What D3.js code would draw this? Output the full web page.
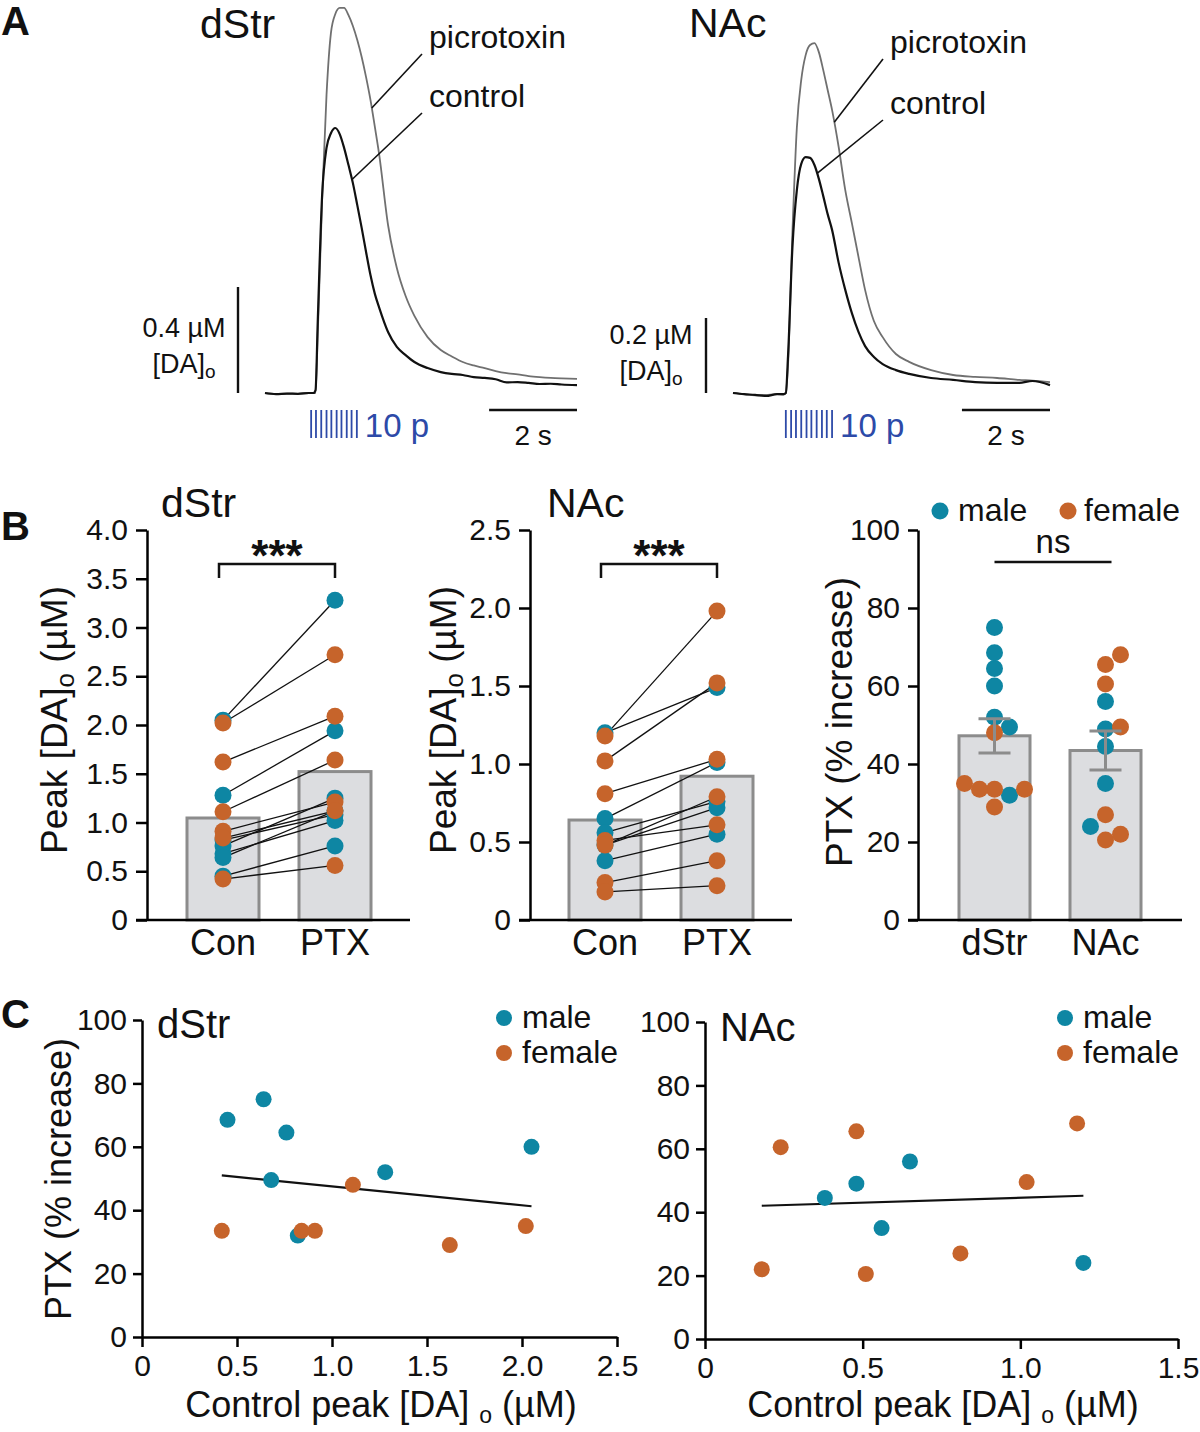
<!DOCTYPE html>
<html>
<head>
<meta charset="utf-8">
<script src="https://cdn.jsdelivr.net/npm/d3@7"></script>
<style>
  body { margin: 0; background: #fff; }
  svg { display: block; font-family: "Liberation Sans", Arial, Helvetica, sans-serif; }
</style>
</head>
<body>
<svg width="1200" height="1432"></svg>
<script>
// ---------- data: panel A traces (time in s, [DA]o in µM) ----------
const dstrTime = [0, 0.25, 0.5, 0.75, 1.0, 1.1, 1.15, 1.2, 1.3, 1.4, 1.5, 1.6, 1.7, 1.8, 1.9, 2.0, 2.1, 2.2, 2.3, 2.4, 2.5, 2.6, 2.8, 3.0, 3.2, 3.4, 3.7, 4.0, 4.25, 4.5, 4.75, 5.0, 5.25, 5.5, 5.75, 6.0, 6.25, 6.5, 6.75, 7.1];
const dstrControl = [0, -0.004, -0.002, -0.003, 0, 0, 0.011, 0.268, 0.747, 0.925, 0.98, 1.0, 0.977, 0.925, 0.86, 0.792, 0.709, 0.623, 0.532, 0.445, 0.374, 0.321, 0.23, 0.174, 0.143, 0.117, 0.094, 0.079, 0.072, 0.068, 0.06, 0.057, 0.052, 0.04, 0.041, 0.038, 0.034, 0.035, 0.032, 0.03];
const dstrPicro = [0, -0.004, -0.002, -0.003, 0, 0, 0, 0.219, 0.728, 1.125, 1.358, 1.43, 1.453, 1.453, 1.426, 1.385, 1.332, 1.268, 1.192, 1.106, 1.004, 0.898, 0.634, 0.472, 0.366, 0.291, 0.211, 0.162, 0.138, 0.117, 0.104, 0.094, 0.083, 0.075, 0.07, 0.064, 0.06, 0.057, 0.055, 0.053];
const dstrStim = [1.05, 1.16, 1.28, 1.4, 1.51, 1.63, 1.74, 1.86, 1.97, 2.09];

const nacTime = [0, 0.25, 0.5, 0.75, 1.0, 1.15, 1.2, 1.25, 1.35, 1.45, 1.55, 1.65, 1.75, 1.85, 1.95, 2.05, 2.15, 2.25, 2.4, 2.55, 2.7, 2.85, 3.0, 3.2, 3.4, 3.7, 4.0, 4.5, 5.0, 5.5, 6.0, 6.5, 6.8, 7.2];
const nacControl = [0, -0.003, -0.005, -0.008, -0.003, -0.003, 0, 0.099, 0.389, 0.541, 0.611, 0.629, 0.627, 0.608, 0.571, 0.525, 0.477, 0.435, 0.347, 0.275, 0.213, 0.163, 0.125, 0.096, 0.077, 0.061, 0.051, 0.04, 0.035, 0.029, 0.027, 0.027, 0.032, 0.021];
const nacPicro = [0, -0.003, -0.006, -0.005, -0.003, -0.004, 0, 0.075, 0.429, 0.707, 0.835, 0.901, 0.928, 0.933, 0.909, 0.861, 0.808, 0.755, 0.656, 0.541, 0.453, 0.363, 0.275, 0.192, 0.149, 0.104, 0.083, 0.061, 0.048, 0.043, 0.04, 0.035, 0.033, 0.029];
const nacStim = [1.2, 1.32, 1.43, 1.55, 1.67, 1.78, 1.9, 2.02, 2.13, 2.25];

// ---------- data: per-slice values (B and C) ----------
const groups = ["Con", "PTX"];
const regions = ["dStr", "NAc"];

const dstrSex = ["m", "f", "f", "m", "f", "f", "f", "m", "m", "m", "m", "m", "f"];
const dstrCon = [2.05, 2.02, 1.62, 1.28, 1.11, 0.91, 0.84, 0.82, 0.76, 0.68, 0.64, 0.45, 0.42];
const dstrPtx = [3.28, 2.72, 2.09, 1.94, 1.64, 1.21, 1.12, 1.08, 1.25, 1.02, 1.12, 0.76, 0.56];
const dstrPct = [60, 35, 29, 52, 48, 33.5, 33.5, 32, 64.5, 49.5, 75, 68.5, 33.5];

const nacSex = ["m", "f", "f", "f", "m", "m", "f", "m", "f", "m", "f", "f"];
const nacCon = [1.2, 1.18, 1.02, 0.81, 0.65, 0.56, 0.51, 0.48, 0.48, 0.38, 0.24, 0.18];
const nacPtx = [1.49, 1.98, 1.52, 1.03, 1.01, 0.76, 0.61, 0.72, 0.79, 0.55, 0.38, 0.22];
const nacPct = [24, 68, 49.5, 27, 56, 35, 20.5, 49, 65.5, 44.5, 60.5, 22];

const pctTicks = [0, 20, 40, 60, 80, 100];

// ---------- styles ----------
const FONT = '"Liberation Sans", Arial, Helvetica, sans-serif';
const MALE = "#0e86a3";
const FEMALE = "#c6642b";
const BAR_FILL = "#dcdde0";
const BAR_STROKE = "#8c8c8c";
const STIM_BLUE = "#2d4aa8";
const sexColor = s => s === "m" ? MALE : FEMALE;

const svg = d3.select("svg");

function text(x, y, str, size, opts = {}) {
    return svg.append("text")
        .attr("x", x).attr("y", y)
        .attr("font-size", size)
        .attr("font-weight", opts.bold ? "bold" : null)
        .attr("text-anchor", opts.anchor || "start")
        .attr("fill", opts.fill || "#111")
        .text(str);
}

function styleAxis(g, fs) {
    g.attr("font-family", FONT).attr("font-size", fs);
    g.select(".domain").attr("stroke", "#000").attr("stroke-width", 2.5);
    g.selectAll(".tick line").attr("stroke", "#000").attr("stroke-width", 2.5);
    g.selectAll(".tick text").attr("fill", "#111");
}

const numFmt = d => d === 0 ? "0" : d3.format(".1f")(d);

// interpolate a value on a trace for leader lines
function valueAt(time, vals, t) {
    const i = d3.bisectRight(time, t);
    const t0 = time[i - 1], t1 = time[i];
    return vals[i - 1] + (vals[i] - vals[i - 1]) * (t - t0) / (t1 - t0);
}

// panel letters
text(1, 35, "A", 40, { bold: true });
text(1, 540, "B", 40, { bold: true });
text(1, 1028, "C", 40, { bold: true });

// ---------- panel A ----------
function tracePanel(o) {
    const tEnd = o.time[o.time.length - 1];
    const x = d3.scaleLinear().domain([0, tEnd]).range([o.x0, o.x1]);
    const y = d3.scaleLinear().domain([0, 1]).range([o.base, o.base - o.pxPerUM]);
    const line = d3.line()
        .x((d, i) => x(o.time[i]))
        .y(d => y(d))
        .curve(d3.curveMonotoneX);

    svg.append("path").datum(o.picro)
        .attr("d", line).attr("fill", "none")
        .attr("stroke", "#707070").attr("stroke-width", 1.8);
    svg.append("path").datum(o.control)
        .attr("d", line).attr("fill", "none")
        .attr("stroke", "#111").attr("stroke-width", 2.2);

    text(o.titleX, o.titleY, o.title, 41);

    // labels with leader lines
    const labels = [
        { name: "picrotoxin", lx: o.labelX, ly: o.picroY, t: o.picroT, vals: o.picro },
        { name: "control", lx: o.labelX, ly: o.controlY, t: o.controlT, vals: o.control }
    ];
    labels.forEach(l => {
        text(l.lx, l.ly, l.name, 32);
        svg.append("line")
            .attr("x1", l.lx - 7).attr("y1", l.ly + 6)
            .attr("x2", x(l.t)).attr("y2", y(valueAt(o.time, l.vals, l.t)))
            .attr("stroke", "#111").attr("stroke-width", 1.6);
    });

    // vertical scale bar
    const vx = o.x0 - 27;
    svg.append("line")
        .attr("x1", vx).attr("x2", vx)
        .attr("y1", y(0)).attr("y2", y(o.barConc))
        .attr("stroke", "#111").attr("stroke-width", 2.4);
    text(o.scaleTextX, o.scaleTextY, o.barConc + " µM", 27, { anchor: "middle" });
    const da = text(o.scaleTextX, o.scaleTextY + 36, "[DA]", 27, { anchor: "middle" });
    da.append("tspan").attr("font-size", 19).attr("dy", 5).text("o");

    // time scale bar
    const ty = o.base + 17;
    svg.append("line")
        .attr("x1", x(tEnd - 2)).attr("x2", x(tEnd))
        .attr("y1", ty).attr("y2", ty)
        .attr("stroke", "#111").attr("stroke-width", 2.4);
    text((x(tEnd - 2) + x(tEnd)) / 2, o.base + 52, "2 s", 28, { anchor: "middle" });

    // stimulation pulses
    svg.append("g").selectAll("line").data(o.stim).join("line")
        .attr("x1", d => x(d)).attr("x2", d => x(d))
        .attr("y1", o.base + 17).attr("y2", o.base + 45)
        .attr("stroke", STIM_BLUE).attr("stroke-width", 1.8);
    text(x(o.stim[o.stim.length - 1]) + 8, o.base + 44, "10 p", 33, { fill: STIM_BLUE });
}

tracePanel({
    time: dstrTime, control: dstrControl, picro: dstrPicro, stim: dstrStim,
    x0: 265, x1: 577, base: 393, pxPerUM: 265, barConc: 0.4,
    title: "dStr", titleX: 200, titleY: 38,
    labelX: 429, picroY: 48, controlY: 107, picroT: 2.43, controlT: 1.98,
    scaleTextX: 184, scaleTextY: 337
});

tracePanel({
    time: nacTime, control: nacControl, picro: nacPicro, stim: nacStim,
    x0: 733, x1: 1050, base: 393, pxPerUM: 375, barConc: 0.2,
    title: "NAc", titleX: 689, titleY: 37,
    labelX: 890, picroY: 53, controlY: 114, picroT: 2.3, controlT: 1.91,
    scaleTextX: 651, scaleTextY: 344
});

// ---------- panel B ----------
const B_TOP = 530, B_BOT = 920;

function yLabel(x, y, parts, size) {
    const t = svg.append("text")
        .attr("transform", `translate(${x},${y}) rotate(-90)`)
        .attr("text-anchor", "middle")
        .attr("font-size", size)
        .attr("fill", "#111");
    parts.forEach(p => {
        const s = t.append("tspan").text(p.t);
        if (p.sub) s.attr("font-size", size * 0.7).attr("dy", 7);
        if (p.unsub) s.attr("dy", -7);
    });
    return t;
}

function pairPanel(o) {
    const y = d3.scaleLinear().domain([0, o.max]).range([B_BOT, B_TOP]);
    const x = d3.scaleBand().domain(groups).range([o.bandL, o.bandR]);
    const cx = d => x(d) + x.bandwidth() / 2;
    const cols = [o.con, o.ptx];
    const means = cols.map(c => d3.mean(c));

    svg.append("g").selectAll("rect").data(groups).join("rect")
        .attr("x", d => cx(d) - o.barW / 2)
        .attr("y", (d, i) => y(means[i]))
        .attr("width", o.barW)
        .attr("height", (d, i) => y(0) - y(means[i]))
        .attr("fill", BAR_FILL).attr("stroke", BAR_STROKE).attr("stroke-width", 3);

    const idx = d3.range(o.con.length);
    svg.append("g").selectAll("line").data(idx).join("line")
        .attr("x1", cx("Con")).attr("x2", cx("PTX"))
        .attr("y1", i => y(o.con[i])).attr("y2", i => y(o.ptx[i]))
        .attr("stroke", "#111").attr("stroke-width", 1.3);

    const order = idx.filter(i => o.sex[i] === "m").concat(idx.filter(i => o.sex[i] === "f"));
    const pts = [];
    order.forEach(i => groups.forEach((gname, gi) => pts.push({ g: gname, v: cols[gi][i], s: o.sex[i] })));
    svg.append("g").selectAll("circle").data(pts).join("circle")
        .attr("cx", d => cx(d.g)).attr("cy", d => y(d.v)).attr("r", 8.5)
        .attr("fill", d => sexColor(d.s));

    // axes
    const ay = svg.append("g").attr("transform", `translate(${o.axisX},0)`)
        .call(d3.axisLeft(y).tickValues(o.ticks).tickFormat(numFmt).tickSize(11).tickSizeOuter(0).tickPadding(8));
    styleAxis(ay, 30);
    svg.append("line")
        .attr("x1", o.axisX - 11).attr("x2", o.xEnd)
        .attr("y1", B_BOT).attr("y2", B_BOT)
        .attr("stroke", "#000").attr("stroke-width", 2.5);
    groups.forEach(gname => text(cx(gname), 955, gname, 36, { anchor: "middle" }));

    // significance bracket
    const bx1 = cx("Con") - 4, bx2 = cx("PTX");
    svg.append("path")
        .attr("d", `M${bx1},578V564H${bx2}V578`)
        .attr("fill", "none").attr("stroke", "#111").attr("stroke-width", 2.5);
    text((bx1 + bx2) / 2, 571, "***", 44, { anchor: "middle", bold: true });

    text(o.titleX, 517, o.title, 41);
    yLabel(o.labelX, 720, [{ t: "Peak [DA]" }, { t: "o", sub: true }, { t: " (µM)", unsub: true }], 37);
}

pairPanel({
    con: dstrCon, ptx: dstrPtx, sex: dstrSex, max: 4,
    ticks: d3.range(0, 4.01, 0.5), axisX: 147, bandL: 167, bandR: 391, barW: 72, xEnd: 410,
    title: "dStr", titleX: 161, labelX: 67
});

pairPanel({
    con: nacCon, ptx: nacPtx, sex: nacSex, max: 2.5,
    ticks: d3.range(0, 2.51, 0.5), axisX: 530, bandL: 549, bandR: 773, barW: 72, xEnd: 792,
    title: "NAc", titleX: 547, labelX: 456
});

// beeswarm placement for the % increase panel (lowest values first)
function swarm(vals, y, cx, step, minD) {
    const order = d3.range(vals.length).sort((a, b) => vals[a] - vals[b]);
    const placed = [];
    const xs = [];
    order.forEach(i => {
        const py = y(vals[i]);
        for (const k of [0, 1, -1, 2, -2, 3, -3]) {
            const px = cx + k * step;
            if (placed.every(p => Math.hypot(p[0] - px, p[1] - py) >= minD)) {
                xs[i] = px;
                placed.push([px, py]);
                break;
            }
        }
    });
    return xs;
}

(function pctPanel() {
    const y = d3.scaleLinear().domain([0, 100]).range([B_BOT, B_TOP]);
    const x = d3.scaleBand().domain(regions).range([939, 1161]);
    const cx = d => x(d) + x.bandwidth() / 2;
    const sets = [
        { r: "dStr", pct: dstrPct, sex: dstrSex },
        { r: "NAc", pct: nacPct, sex: nacSex }
    ];
    const barW = 71;

    sets.forEach(s => {
        const m = d3.mean(s.pct);
        const sem = d3.deviation(s.pct) / Math.sqrt(s.pct.length);
        s.mean = m; s.sem = sem;
        svg.append("rect")
            .attr("x", cx(s.r) - barW / 2).attr("y", y(m))
            .attr("width", barW).attr("height", y(0) - y(m))
            .attr("fill", BAR_FILL).attr("stroke", BAR_STROKE).attr("stroke-width", 3);
    });

    sets.forEach(s => {
        const xs = swarm(s.pct, y, cx(s.r), 15, 14.9);
        const idx = d3.range(s.pct.length);
        const order = idx.filter(i => s.sex[i] === "m").concat(idx.filter(i => s.sex[i] === "f"));
        svg.append("g").selectAll("circle").data(order).join("circle")
            .attr("cx", i => xs[i]).attr("cy", i => y(s.pct[i])).attr("r", 8.5)
            .attr("fill", i => sexColor(s.sex[i]));
    });

    // SEM error bars drawn over points
    sets.forEach(s => {
        const c = cx(s.r);
        svg.append("path")
            .attr("d", `M${c - 16},${y(s.mean + s.sem)}H${c + 16}M${c},${y(s.mean + s.sem)}V${y(s.mean - s.sem)}M${c - 16},${y(s.mean - s.sem)}H${c + 16}`)
            .attr("fill", "none").attr("stroke", BAR_STROKE).attr("stroke-width", 3);
    });

    const ay = svg.append("g").attr("transform", "translate(918,0)")
        .call(d3.axisLeft(y).tickValues(pctTicks).tickSize(10).tickSizeOuter(0).tickPadding(8));
    styleAxis(ay, 30);
    svg.append("line")
        .attr("x1", 908).attr("x2", 1182)
        .attr("y1", B_BOT).attr("y2", B_BOT)
        .attr("stroke", "#000").attr("stroke-width", 2.5);
    regions.forEach(r => text(cx(r), 955, r, 36, { anchor: "middle" }));

    // ns line
    svg.append("line")
        .attr("x1", cx("dStr")).attr("x2", cx("NAc") + 6)
        .attr("y1", 562).attr("y2", 562)
        .attr("stroke", "#111").attr("stroke-width", 2.5);
    text((cx("dStr") + cx("NAc") + 6) / 2, 553, "ns", 33, { anchor: "middle" });

    // legend
    svg.append("circle").attr("cx", 940).attr("cy", 511).attr("r", 8.5).attr("fill", MALE);
    text(958, 521, "male", 32);
    svg.append("circle").attr("cx", 1068).attr("cy", 511).attr("r", 8.5).attr("fill", FEMALE);
    text(1084, 521, "female", 32);

    yLabel(852, 722, [{ t: "PTX (% increase)" }], 37);
})();

// ---------- panel C ----------
function scatterPanel(o) {
    const x = d3.scaleLinear().domain([0, o.xmax]).range([o.x0, o.x1]);
    const y = d3.scaleLinear().domain([0, 100]).range([o.y0, o.y1]);

    // least-squares fit
    const mx = d3.mean(o.con), my = d3.mean(o.pct);
    const sxy = d3.sum(o.con, (v, i) => (v - mx) * (o.pct[i] - my));
    const sxx = d3.sum(o.con, v => (v - mx) * (v - mx));
    const slope = sxy / sxx, icpt = my - slope * mx;
    const ext = d3.extent(o.con);
    svg.append("line")
        .attr("x1", x(ext[0])).attr("y1", y(icpt + slope * ext[0]))
        .attr("x2", x(ext[1])).attr("y2", y(icpt + slope * ext[1]))
        .attr("stroke", "#111").attr("stroke-width", 2.2);

    const idx = d3.range(o.con.length);
    const order = idx.filter(i => o.sex[i] === "m").concat(idx.filter(i => o.sex[i] === "f"));
    svg.append("g").selectAll("circle").data(order).join("circle")
        .attr("cx", i => x(o.con[i])).attr("cy", i => y(o.pct[i])).attr("r", 8)
        .attr("fill", i => sexColor(o.sex[i]));

    const ay = svg.append("g").attr("transform", `translate(${o.x0},0)`)
        .call(d3.axisLeft(y).tickValues(pctTicks).tickSize(9).tickSizeOuter(0).tickPadding(6));
    styleAxis(ay, 30);
    const ax = svg.append("g").attr("transform", `translate(0,${o.y0})`)
        .call(d3.axisBottom(x).tickValues(o.xticks).tickFormat(numFmt).tickSize(10).tickSizeOuter(0).tickPadding(8));
    styleAxis(ax, 30);

    text(o.titleX, o.titleY, o.title, 40);

    // legend
    svg.append("circle").attr("cx", o.legX).attr("cy", 1018).attr("r", 8).attr("fill", MALE);
    text(o.legX + 18, 1028, "male", 32);
    svg.append("circle").attr("cx", o.legX).attr("cy", 1053).attr("r", 8).attr("fill", FEMALE);
    text(o.legX + 18, 1063, "female", 32);

    const xl = text(o.labelX, 1417, "Control peak [DA] ", 36, { anchor: "middle" });
    xl.append("tspan").attr("font-size", 23).attr("dy", 6).text("o");
    xl.append("tspan").attr("dy", -6).text(" (µM)");
}

scatterPanel({
    con: dstrCon, pct: dstrPct, sex: dstrSex, xmax: 2.5, xticks: d3.range(0, 2.51, 0.5),
    x0: 142, x1: 617, y0: 1337, y1: 1020, labelX: 381,
    title: "dStr", titleX: 157, titleY: 1038, legX: 504
});
yLabel(71, 1179, [{ t: "PTX (% increase)" }], 36);

scatterPanel({
    con: nacCon, pct: nacPct, sex: nacSex, xmax: 1.5, xticks: d3.range(0, 1.51, 0.5),
    x0: 705, x1: 1178, y0: 1339, y1: 1022, labelX: 943,
    title: "NAc", titleX: 720, titleY: 1041, legX: 1065
});
</script>
</body>
</html>
